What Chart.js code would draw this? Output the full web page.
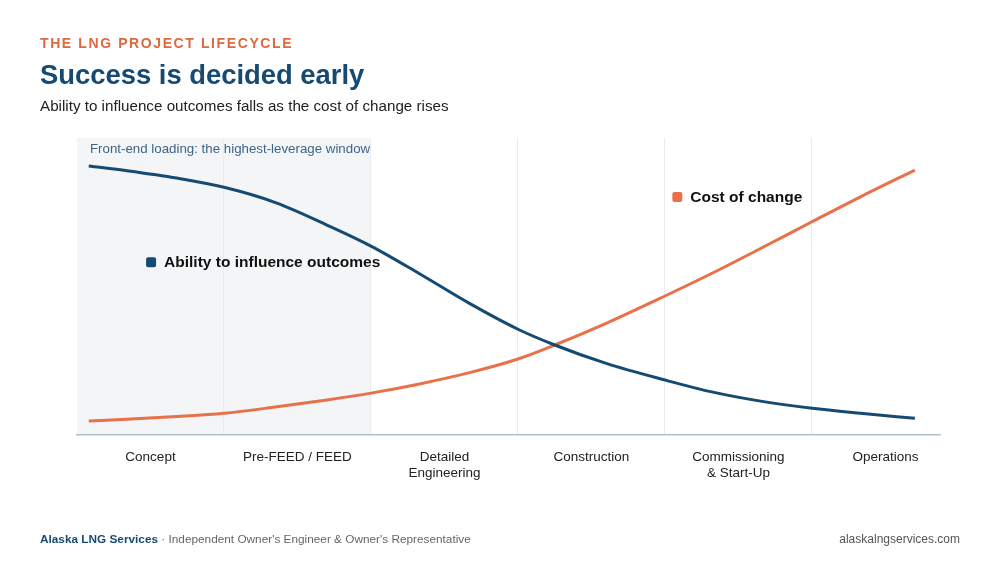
<!DOCTYPE html>
<html lang="en">
<head>
<meta charset="utf-8">
<script src="https://cdn.jsdelivr.net/npm/chart.js@4.4.1/dist/chart.umd.min.js"></script>
<style>
  html, body { margin: 0; padding: 0; background: #fff; }
  body { width: 1000px; height: 563px; position: relative; overflow: hidden; font-family: "Liberation Sans", Arial, sans-serif; }
  #chart { position: absolute; left: 0; top: 0; }
  .kicker { position: absolute; left: 40px; top: 35px; font-size: 14px; font-weight: bold; letter-spacing: 1.6px; color: #dc6a40; }
  .title { position: absolute; left: 40px; top: 59px; font-size: 27.4px; font-weight: bold; color: #164a73; }
  .subtitle { position: absolute; left: 40px; top: 97px; font-size: 15.2px; color: #222; }
  .footer { position: absolute; left: 40px; top: 532px; font-size: 11.8px; color: #666; }
  .footer b { color: #164a73; }
  .site { position: absolute; right: 40px; top: 532px; font-size: 12px; color: #555; }
</style>
</head>
<body>
  <canvas id="chart" width="1000" height="563"></canvas>
  <div class="kicker">THE LNG PROJECT LIFECYCLE</div>
  <div class="title">Success is decided early</div>
  <div class="subtitle">Ability to influence outcomes falls as the cost of change rises</div>
  <div class="footer"><b>Alaska LNG Services</b> · Independent Owner's Engineer &amp; Owner's Representative</div>
  <div class="site">alaskalngservices.com</div>

<script>
  // phases along the x axis (one unit per phase)
  var phaseLabels = ['Concept', 'Pre-FEED / FEED', ['Detailed', 'Engineering'], 'Construction', ['Commissioning', '& Start-Up'], 'Operations'];
  var phaseCenters = [0.5, 1.5, 2.5, 3.5, 4.5, 5.5];

  // curve samples
  var curveX = [0.08, 0.34, 0.68, 1.0, 1.36, 1.7, 2.0, 2.33, 2.67, 3.0, 3.25, 3.6, 4.0, 4.31, 4.65, 5.0, 5.33, 5.7];
  var influence = [90.6, 89.0, 86.5, 83.4, 78.1, 70.7, 63.6, 54.3, 44.3, 35.6, 30.3, 24.1, 18.5, 14.6, 11.4, 9.0, 7.3, 5.6];
  var costOfChange = [4.7, 5.3, 6.2, 7.3, 9.5, 11.8, 14.1, 17.2, 21.0, 25.6, 30.3, 37.6, 46.8, 54.2, 62.8, 71.8, 80.2, 89.2];

  var navy = '#154a72';
  var orange = '#e8714a';

  function toPoints(ys) {
    return curveX.map(function (x, i) { return { x: x, y: ys[i] }; });
  }

  Chart.defaults.font.family = '"Liberation Sans", Arial, sans-serif';

  var frontEnd = {
    id: 'frontEnd',
    beforeDraw: function (chart) {
      var ctx = chart.ctx, a = chart.chartArea, xs = chart.scales.x;
      var x0 = xs.getPixelForValue(0), x1 = xs.getPixelForValue(2);
      ctx.save();
      ctx.fillStyle = '#f3f5f7';
      ctx.fillRect(x0, a.top, x1 - x0, a.bottom - a.top);
      ctx.restore();
    },
    afterDatasetsDraw: function (chart) {
      var ctx = chart.ctx, a = chart.chartArea, xs = chart.scales.x, ys = chart.scales.y;
      ctx.save();
      ctx.font = '13.3px "Liberation Sans", Arial, sans-serif';
      ctx.fillStyle = '#3f6586';
      ctx.textBaseline = 'middle';
      ctx.fillText('Front-end loading: the highest-leverage window', a.left + 13, a.top + 11);

      var tags = [
        { text: 'Ability to influence outcomes', color: navy, x: 0.47, y: 58.2 },
        { text: 'Cost of change', color: orange, x: 4.05, y: 80.1 }
      ];
      ctx.font = 'bold 15.5px "Liberation Sans", Arial, sans-serif';
      tags.forEach(function (t) {
        var px = xs.getPixelForValue(t.x), py = ys.getPixelForValue(t.y);
        ctx.fillStyle = t.color;
        ctx.beginPath();
        ctx.roundRect(px, py - 5, 10, 10, 2);
        ctx.fill();
        ctx.fillStyle = '#111';
        ctx.fillText(t.text, px + 18, py + 0.5);
      });
      ctx.restore();
    }
  };

  new Chart(document.getElementById('chart').getContext('2d'), {
    type: 'line',
    data: {
      datasets: [
        { label: 'Ability to influence outcomes', data: toPoints(influence), borderColor: navy, borderWidth: 3, pointRadius: 0, cubicInterpolationMode: 'monotone', fill: false },
        { label: 'Cost of change', data: toPoints(costOfChange), borderColor: orange, borderWidth: 3, pointRadius: 0, cubicInterpolationMode: 'monotone', fill: false }
      ]
    },
    options: {
      responsive: false,
      animation: false,
      layout: { padding: { left: 77, right: 60, top: 138, bottom: 0 } },
      plugins: { legend: { display: false }, tooltip: { enabled: false } },
      scales: {
        x: {
          type: 'linear',
          min: 0,
          max: 5.871,
          afterBuildTicks: function (s) { s.ticks = phaseCenters.map(function (v) { return { value: v }; }); },
          afterFit: function (s) { s.height = 128; },
          ticks: {
            callback: function (v, i) { return phaseLabels[i]; },
            color: '#222',
            font: { size: 13.5, lineHeight: 1.2 },
            padding: 14,
            maxRotation: 0,
            autoSkip: false
          },
          grid: {
            offset: true,
            drawTicks: false,
            color: function (c) { return c.index === 0 ? 'rgba(0,0,0,0)' : '#e9edf1'; },
            lineWidth: 1
          },
          border: { display: true, color: '#b5bfc9', width: 1.5 }
        },
        y: { display: false, min: 0, max: 100 }
      }
    },
    plugins: [frontEnd]
  });
</script>
</body>
</html>
